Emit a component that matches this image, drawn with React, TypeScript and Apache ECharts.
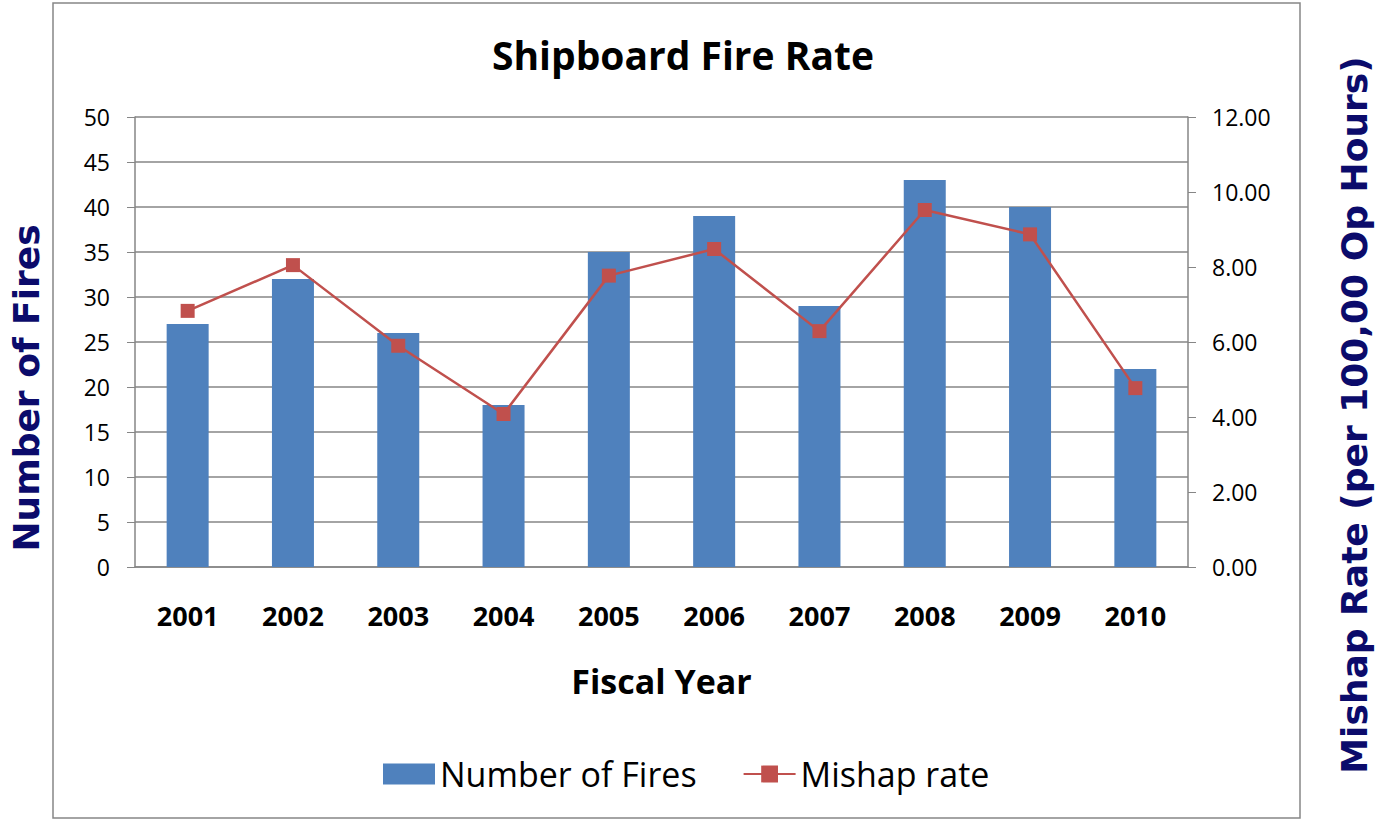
import React, { useEffect, useRef } from "react";
import * as echarts from "echarts";

const years = ["2001", "2002", "2003", "2004", "2005", "2006", "2007", "2008", "2009", "2010"];
const fires = [27, 32, 26, 18, 35, 39, 29, 43, 40, 22];
const mishapRate = [6.83, 8.05, 5.9, 4.08, 7.77, 8.48, 6.29, 9.52, 8.87, 4.77];

const calibri = "'Open Sans', Lato, sans-serif";
const heavy = "'DejaVu Sans', 'Liberation Sans', sans-serif";

export default function App() {
  const ref = useRef<HTMLDivElement>(null);
  useEffect(() => {
    const chart = echarts.init(ref.current!, null, { renderer: "svg" });
    chart.setOption({
      animation: false,
      backgroundColor: "#ffffff",
      title: {
        text: "Shipboard Fire Rate",
        left: 678,
        top: 30,
        textAlign: "center",
        textStyle: { fontFamily: calibri, fontWeight: "bold", fontSize: 39, color: "#000" },
      },
      grid: { left: 135, right: 197, top: 117, bottom: 254, containLabel: false },
      legend: {
        left: 378,
        top: 752,
        itemWidth: 52,
        itemHeight: 21,
        itemGap: 46,
        textStyle: { fontFamily: calibri, fontSize: 34, color: "#000" },
        data: [
          { name: "Number of Fires", icon: "rect" },
          { name: "Mishap rate" },
        ],
      },
      xAxis: {
        type: "category",
        data: years,
        axisLine: { lineStyle: { color: "#868686", width: 1.5 } },
        axisTick: { show: false },
        axisLabel: { fontFamily: calibri, fontWeight: "bold", fontSize: 27, color: "#000", margin: 35 },
        name: "Fiscal Year",
        nameLocation: "middle",
        nameGap: 97,
        nameTextStyle: { fontFamily: calibri, fontWeight: "bold", fontSize: 34, color: "#000" },
      },
      yAxis: [
        {
          type: "value",
          min: 0,
          max: 50,
          interval: 5,
          axisLine: { show: true, lineStyle: { color: "#868686", width: 1.5 } },
          axisTick: { show: true, length: 8, lineStyle: { color: "#868686" } },
          splitLine: { lineStyle: { color: "#868686", width: 1.5 } },
          axisLabel: { fontFamily: calibri, fontSize: 23, color: "#000", margin: 25 },
        },
        {
          type: "value",
          min: 0,
          max: 12,
          interval: 2,
          position: "right",
          axisLine: { show: true, lineStyle: { color: "#868686", width: 1.5 } },
          axisTick: { show: true, length: 8, lineStyle: { color: "#868686" } },
          splitLine: { show: false },
          axisLabel: {
            fontFamily: calibri,
            fontSize: 23,
            color: "#000",
            margin: 24,
            formatter: (v: number) => v.toFixed(2),
          },
        },
      ],
      series: [
        {
          name: "Number of Fires",
          type: "bar",
          data: fires,
          barWidth: 42,
          itemStyle: { color: "#4F81BD" },
        },
        {
          name: "Mishap rate",
          type: "line",
          yAxisIndex: 1,
          data: mishapRate,
          symbol: "rect",
          symbolSize: 14,
          lineStyle: { color: "#C0504D", width: 2.5 },
          itemStyle: { color: "#C0504D" },
        },
      ],
      graphic: [
        {
          type: "rect",
          shape: { x: 53, y: 3, width: 1247, height: 815 },
          style: { fill: "none", stroke: "#868686", lineWidth: 1.5 },
          silent: true,
        },
        {
          type: "text",
          x: 26,
          y: 388,
          rotation: Math.PI / 2,
          style: {
            text: "Number of Fires",
            fontFamily: heavy,
            fontWeight: 900,
            fontSize: 36,
            fill: "#0B0B6B",
            align: "center",
            verticalAlign: "middle",
          },
        },
        {
          type: "text",
          x: 1354,
          y: 415,
          rotation: Math.PI / 2,
          style: {
            text: "Mishap Rate (per 100,00 Op Hours)",
            fontFamily: heavy,
            fontWeight: 900,
            fontSize: 36,
            fill: "#0B0B6B",
            align: "center",
            verticalAlign: "middle",
          },
        },
      ],
    });
    return () => chart.dispose();
  }, []);
  return <div ref={ref} style={{ position: "fixed", left: 0, top: 0, width: 1385, height: 821 }} />;
}
